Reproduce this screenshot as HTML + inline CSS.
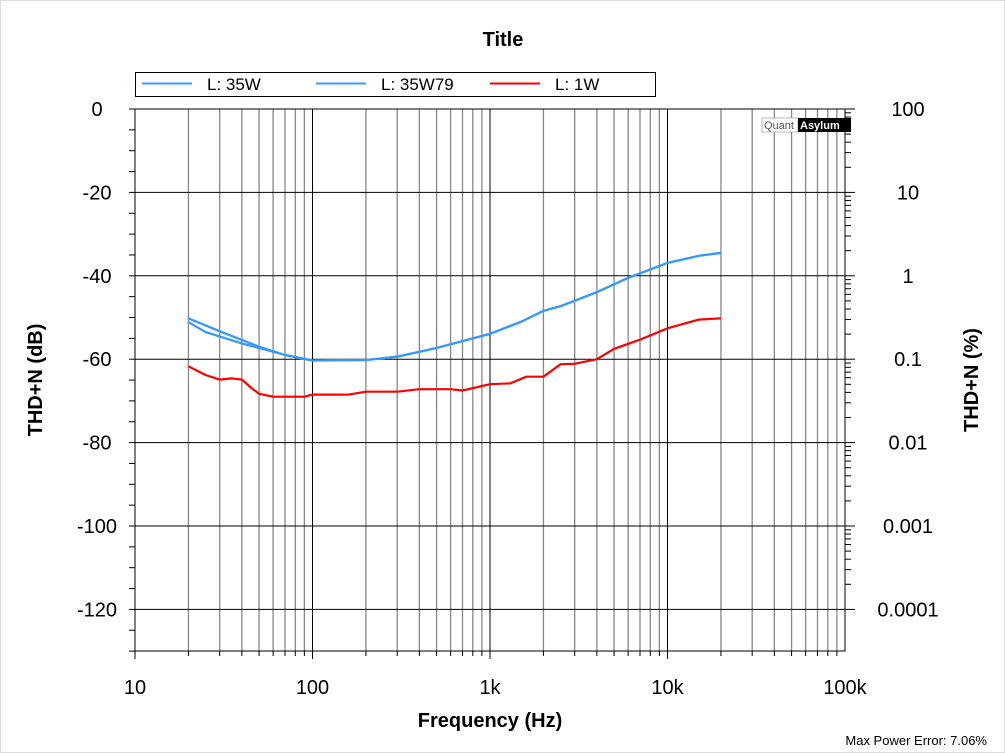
<!DOCTYPE html>
<html><head><meta charset="utf-8"><style>
html,body{margin:0;padding:0;background:#fff;}
svg{display:block;font-family:"Liberation Sans",Arial,sans-serif;}
</style></head><body>
<svg id="s" width="1005" height="753" xmlns="http://www.w3.org/2000/svg">
<rect x="0.5" y="0.5" width="1004" height="752" fill="#fff" stroke="#ddd"/>
<text x="503" y="46" font-size="20" font-weight="bold" text-anchor="middle">Title</text>
<rect x="135.5" y="72.5" width="520" height="24" fill="#fff" stroke="#000"/>
<line x1="142" y1="83.5" x2="192" y2="83.5" stroke="#3399ff" stroke-width="2"/>
<text x="207" y="90" font-size="17">L: 35W</text>
<line x1="316" y1="83.5" x2="366" y2="83.5" stroke="#3399ff" stroke-width="2"/>
<text x="381" y="90" font-size="17">L: 35W79</text>
<line x1="490" y1="83.5" x2="540" y2="83.5" stroke="#ff0000" stroke-width="2"/>
<text x="555" y="90" font-size="17">L: 1W</text>
<g id="g"></g>
<rect x="762" y="118" width="36" height="14" fill="#fff" stroke="#aaa" stroke-width="0.8"/>
<text x="764" y="129" font-size="11" fill="#555">Quant</text>
<rect x="798" y="118" width="53" height="14" fill="#000"/>
<text x="800" y="129" font-size="11" font-weight="bold" fill="#fff">Asylum</text>
<text x="490" y="727" font-size="20" font-weight="bold" text-anchor="middle">Frequency (Hz)</text>
<text transform="translate(42,380) rotate(-90)" font-size="20" font-weight="bold" text-anchor="middle">THD+N (dB)</text>
<text transform="translate(978,380) rotate(-90)" font-size="20" font-weight="bold" text-anchor="middle">THD+N (%)</text>
<text x="987" y="745" font-size="13" text-anchor="end">Max Power Error: 7.06%</text>
</svg>
<script>
var g=document.getElementById('g'),h='';
var L=135,R=845,T=109,B=651,D=177.5,P=4.17;
function X(f){return L+D*Math.log10(f/10);}
function Y(d){return T-d*P;}
for(var e=1;e<=4;e++)for(var k=1;k<10;k++){var x=X(Math.pow(10,e)*k);if(x>R+1)continue;
 var major=k==1;
 if(x>L+1&&x<R-1)h+='<line x1="'+x+'" y1="'+T+'" x2="'+x+'" y2="'+B+'" stroke="'+(major?'#000':'#888')+'" stroke-width="'+(major?1:1.3)+'"/>';
 h+='<line x1="'+x+'" y1="'+B+'" x2="'+x+'" y2="'+(B+(major?8:5))+'" stroke="#000"/>';}
for(var d=0;d>=-130;d-=5){var y=Y(d);
 if(d%20==0&&d>-130&&d<0)h+='<line x1="'+L+'" y1="'+y+'" x2="'+R+'" y2="'+y+'" stroke="#000"/>';
 h+='<line x1="'+(L-6)+'" y1="'+y+'" x2="'+L+'" y2="'+y+'" stroke="#000"/>';
 if(d%20==0)h+='<text x="'+(L-38)+'" y="'+(y+7)+'" font-size="20" text-anchor="middle">'+d+'</text>';}
h+='<rect x="'+L+'" y="'+T+'" width="'+(R-L)+'" height="'+(B-T)+'" fill="none" stroke="#000"/>';
h+='<line x1="'+L+'" y1="'+T+'" x2="855" y2="'+T+'" stroke="#000"/>';
var pl=['100','10','1','0.1','0.01','0.001','0.0001'];
for(var i=0;i<7;i++){var y0=Y(-20*i);
 h+='<text x="908" y="'+(y0+7)+'" font-size="20" text-anchor="middle">'+pl[i]+'</text>';}
for(var e=-4;e<=2;e++)for(var k=1;k<10;k++){var p=Math.pow(10,e-1)*k*10;var d=20*Math.log10(p/100);if(d>0.01||d<-130)continue;var y=Y(d);
 h+='<line x1="'+R+'" y1="'+y+'" x2="'+(R+(k==1?10:6))+'" y2="'+y+'" stroke="#000"/>';}
function poly(pts,c){var s='';for(var i=0;i<pts.length;i++)s+=X(pts[i][0]).toFixed(1)+','+Y(pts[i][1]).toFixed(1)+' ';
 return '<polyline points="'+s+'" fill="none" stroke="'+c+'" stroke-width="2.2" stroke-linejoin="round"/>';}
var a=[[20,-50.2],[30,-53.3],[50,-57],[70,-59],[100,-60.3],[200,-60.2],[300,-59.4],[500,-57.3],[1000,-53.9],[1500,-51],[2000,-48.4],[2500,-47.3],[4000,-43.9],[6000,-40.5],[10000,-36.9],[15000,-35.2],[20000,-34.5]];
var b=[[20,-51.1],[25,-53.5],[40,-56.2],[70,-59],[100,-60.3],[200,-60.2],[300,-59.4],[500,-57.3],[1000,-53.9],[1500,-51],[2000,-48.4],[2500,-47.3],[4000,-43.9],[6000,-40.5],[10000,-36.9],[15000,-35.2],[20000,-34.5]];
var r=[[20,-61.7],[25,-63.8],[30,-64.9],[35,-64.6],[40,-64.9],[45,-66.8],[50,-68.3],[60,-69],[90,-69],[100,-68.5],[160,-68.5],[200,-67.8],[300,-67.8],[400,-67.2],[600,-67.2],[700,-67.5],[1000,-66],[1300,-65.8],[1600,-64.2],[2000,-64.2],[2500,-61.2],[3000,-61.1],[3500,-60.5],[4000,-60],[5000,-57.5],[7000,-55.3],[10000,-52.6],[15000,-50.5],[20000,-50.2]];
h+=poly(a,'#3399ff')+poly(b,'#3399ff')+poly(r,'#ff0000');
for(var e=1;e<=5;e++){var lab=['10','100','1k','10k','100k'][e-1];h+='<text x="'+X(Math.pow(10,e))+'" y="'+(B+43)+'" font-size="20" text-anchor="middle">'+lab+'</text>';}
g.innerHTML=h;
</script>
</body></html>
